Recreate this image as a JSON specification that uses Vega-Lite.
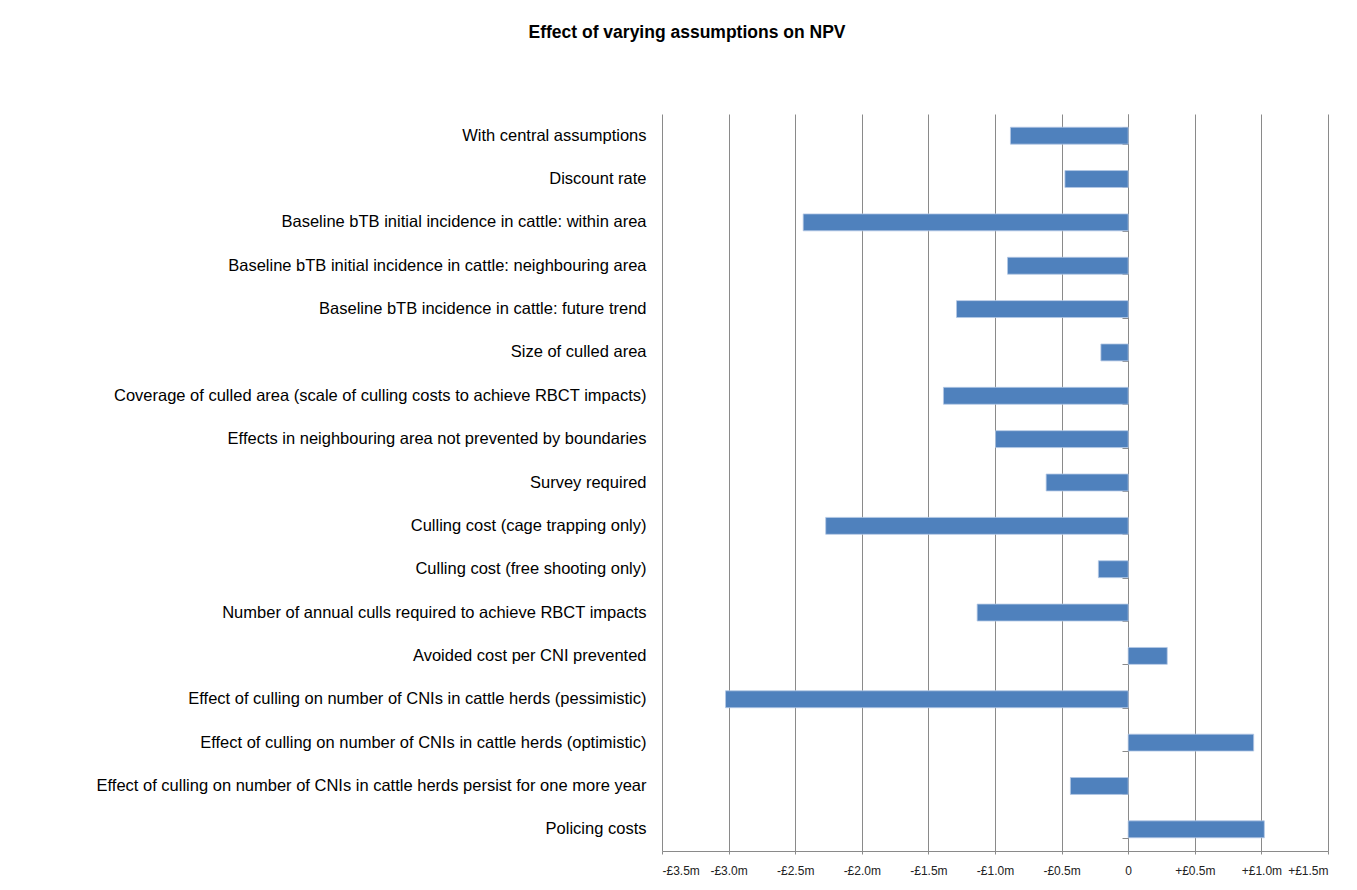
{
  "$schema": "https://vega.github.io/schema/vega-lite/v6.json",
  "autosize": {"type": "none"},
  "padding": {"left": 662, "top": 114, "right": 29, "bottom": 39},
  "width": 666,
  "height": 737,
  "background": "white",
  "title": {
    "text": "Effect of varying assumptions on NPV",
    "anchor": "middle",
    "dx": -308,
    "offset": 64,
    "baseline": "middle",
    "font": "Liberation Sans",
    "fontSize": 17.5,
    "fontWeight": "bold",
    "color": "#000000"
  },
  "data": {
    "values": [
      {"assumption": "With central assumptions", "npv": -0.884},
      {"assumption": "Discount rate", "npv": -0.475},
      {"assumption": "Baseline bTB initial incidence in cattle: within area", "npv": -2.44},
      {"assumption": "Baseline bTB initial incidence in cattle: neighbouring area", "npv": -0.906},
      {"assumption": "Baseline bTB incidence in cattle: future trend", "npv": -1.289},
      {"assumption": "Size of culled area", "npv": -0.205},
      {"assumption": "Coverage of culled area (scale of culling costs to achieve RBCT impacts)", "npv": -1.387},
      {"assumption": "Effects in neighbouring area not prevented by boundaries", "npv": -0.996},
      {"assumption": "Survey required", "npv": -0.616},
      {"assumption": "Culling cost (cage trapping only)", "npv": -2.271},
      {"assumption": "Culling cost (free shooting only)", "npv": -0.224},
      {"assumption": "Number of annual culls required to achieve RBCT impacts", "npv": -1.134},
      {"assumption": "Avoided cost per CNI prevented", "npv": 0.293},
      {"assumption": "Effect of culling on number of CNIs in cattle herds (pessimistic)", "npv": -3.023},
      {"assumption": "Effect of culling on number of CNIs in cattle herds (optimistic)", "npv": 0.942},
      {"assumption": "Effect of culling on number of CNIs in cattle herds persist for one more year", "npv": -0.434},
      {"assumption": "Policing costs", "npv": 1.022}
    ]
  },
  "encoding": {
    "y": {
      "field": "assumption",
      "type": "nominal",
      "sort": null,
      "scale": {"paddingInner": 0.61, "paddingOuter": 0.305}
    },
    "x": {
      "field": "npv",
      "type": "quantitative",
      "scale": {"domain": [-3.5, 1.5], "nice": false, "zero": false}
    }
  },
  "layer": [
    {
      "mark": {"type": "bar", "color": "#4F81BD", "stroke": "#b4c8e4", "strokeWidth": 0.8},
      "encoding": {
        "y": {
          "field": "assumption",
          "type": "nominal",
          "sort": null,
          "axis": {
            "orient": "left",
            "title": null,
            "domain": false,
            "ticks": false,
            "grid": false,
            "labelPadding": 16,
            "labelFont": "Liberation Sans",
            "labelFontSize": 16.5,
            "labelColor": "#000000",
            "labelLimit": 700
          }
        },
        "x": {
          "field": "npv",
          "type": "quantitative",
          "axis": {
            "title": null,
            "values": [-3.5, -3, -2.5, -2, -1.5, -1, -0.5, 0, 0.5, 1, 1.5],
            "grid": true,
            "gridColor": "#8a8a8a",
            "gridWidth": 1,
            "domainColor": "#8a8a8a",
            "tickColor": "#8a8a8a",
            "tickSize": 3,
            "labelPadding": 11,
            "labelFont": "Liberation Sans",
            "labelFontSize": 12,
            "labelColor": "#222222",
            "labelExpr": "datum.value == 0 ? '0' : (datum.value > 0 ? '+' : '-') + '£' + format(abs(datum.value), '.1f') + 'm'"
          }
        }
      }
    },
    {
      "mark": {"type": "bar", "opacity": 0},
      "encoding": {
        "y": {
          "field": "assumption",
          "type": "nominal",
          "sort": null,
          "axis": {
            "orient": "left",
            "offset": -466,
            "title": null,
            "labels": false,
            "grid": false,
            "domain": true,
            "domainColor": "#8a8a8a",
            "ticks": true,
            "tickBand": "extent",
            "tickSize": 6,
            "tickColor": "#8a8a8a"
          }
        }
      }
    }
  ],
  "resolve": {"axis": {"y": "independent"}},
  "config": {"view": {"stroke": null}}
}
